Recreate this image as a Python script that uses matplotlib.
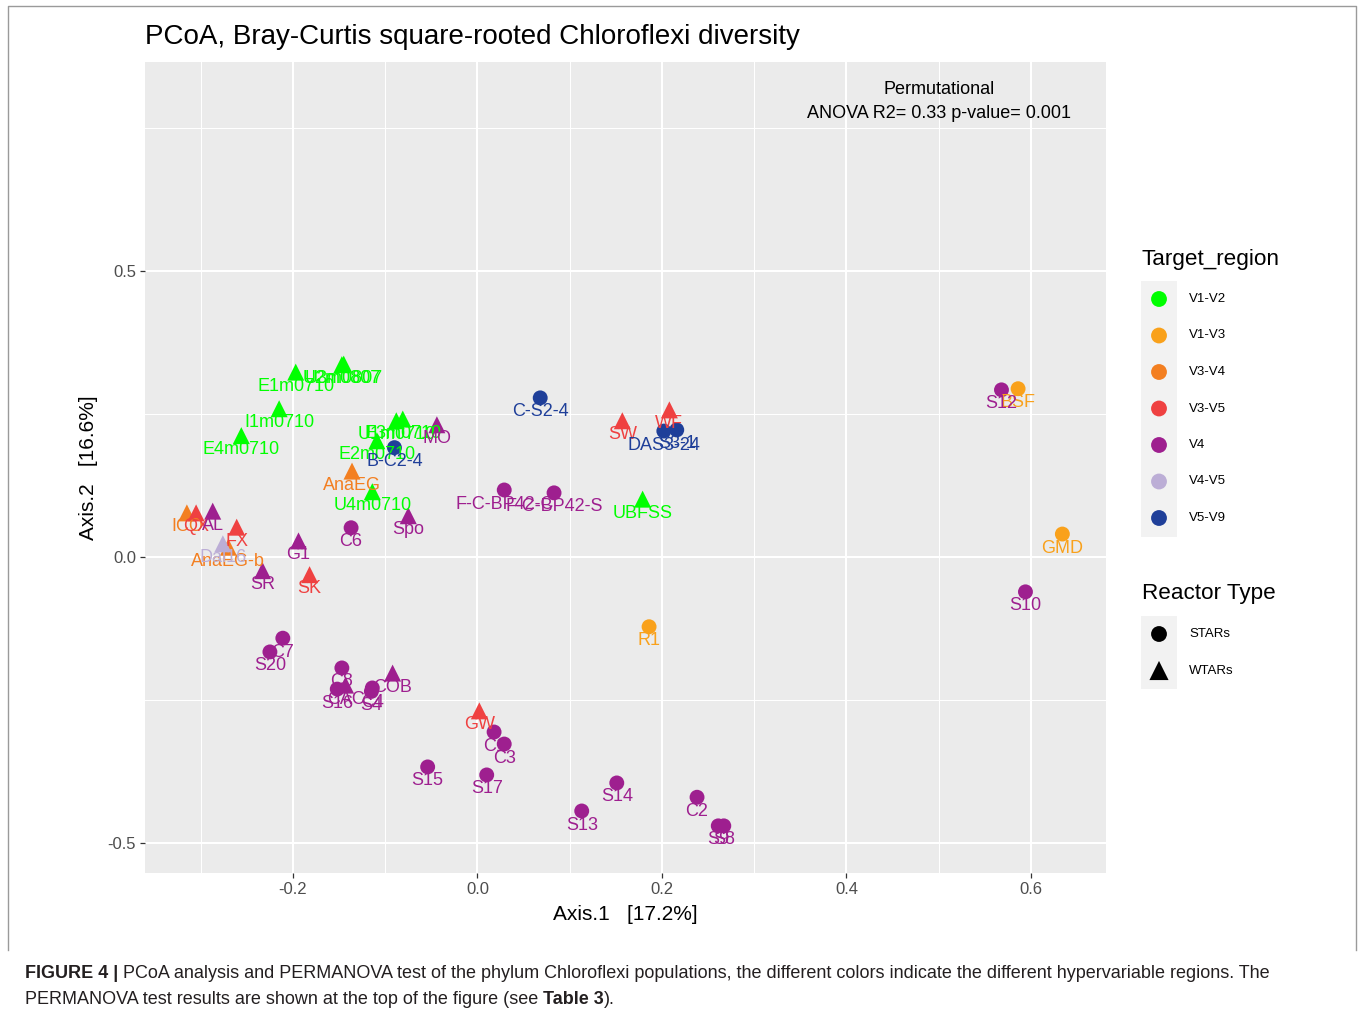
import matplotlib
matplotlib.use('Agg')
import matplotlib.pyplot as plt
from matplotlib.patches import Rectangle
from matplotlib.ticker import FixedLocator, FormatStrFormatter

plt.rcParams['font.family'] = ['Liberation Sans', 'DejaVu Sans']
plt.rcParams['axes.unicode_minus'] = False

# PCoA coordinates
samples = ['E1m0710', 'U2m0807', 'U3m0807', 'I1m0710', 'E4m0710', 'U1m0710', 'E3m0710',
           'E2m0710', 'U4m0710', 'UBFSS',
           'BSF', 'GMD', 'R1',
           'AnaEG', 'AnaEG-b', 'ICO',
           'QX', 'FX', 'SK', 'GW', 'SW', 'WF',
           'AL', 'G1', 'SR', 'Spo', 'MO', 'COB', 'CAC',
           'F-C-BP42-C', 'F-C-BP42-S', 'C6', 'C7', 'S20', 'C8', 'S16', 'C4', 'S4',
           'C1', 'C3', 'S15', 'S17', 'S14', 'S13', 'C2', 'S9', 'S8', 'S12', 'S10',
           'Dai16',
           'C-S2-4', 'B-C2-4', 'DAS3-24', 'S3-1']
axis1 = [-0.197, -0.147, -0.145, -0.215, -0.256, -0.088, -0.081,
         -0.109, -0.114, 0.179,
         0.586, 0.634, 0.186,
         -0.136, -0.270, -0.315,
         -0.305, -0.261, -0.182, 0.002, 0.157, 0.208,
         -0.287, -0.194, -0.233, -0.075, -0.044, -0.092, -0.143,
         0.029, 0.083, -0.137, -0.211, -0.225, -0.147, -0.152, -0.114, -0.115,
         0.018, 0.029, -0.054, 0.010, 0.151, 0.113, 0.238, 0.261, 0.267, 0.568, 0.594,
         -0.276,
         0.068, -0.090, 0.202, 0.216]
axis2 = [0.323, 0.336, 0.337, 0.259, 0.212, 0.238, 0.241,
         0.203, 0.114, 0.101,
         0.294, 0.040, -0.122,
         0.150, 0.017, 0.077,
         0.077, 0.052, -0.031, -0.269, 0.238, 0.257,
         0.080, 0.028, -0.024, 0.072, 0.231, -0.203, -0.224,
         0.117, 0.112, 0.051, -0.142, -0.166, -0.194, -0.231, -0.229, -0.235,
         -0.306, -0.327, -0.367, -0.381, -0.395, -0.444, -0.420, -0.470, -0.470, 0.292, -0.061,
         0.023,
         0.278, 0.191, 0.220, 0.222]
target_region = ['V1-V2'] * 10 + ['V1-V3'] * 3 + ['V3-V4'] * 3 + ['V3-V5'] * 6 + \
                ['V4'] * 27 + ['V4-V5'] + ['V5-V9'] * 4
reactor_type = ['WTARs'] * 10 + ['STARs'] * 3 + ['WTARs'] * 3 + ['WTARs'] * 6 + \
               ['WTARs'] * 7 + ['STARs'] * 20 + ['WTARs'] + ['STARs'] * 4

region_names = ['V1-V2', 'V1-V3', 'V3-V4', 'V3-V5', 'V4', 'V4-V5', 'V5-V9']
region_colors = ['#00FF00', '#F9A11B', '#F37F21', '#EF4141', '#9E1F8F', '#BCAED6', '#1F3F99']
reactor_names = ['STARs', 'WTARs']
reactor_markers = ['o', '^']

color_of = dict(zip(region_names, region_colors))
marker_of = dict(zip(reactor_names, reactor_markers))
size_of = {'STARs': 115, 'WTARs': 150}

W, H = 1360, 1015
fig = plt.figure(figsize=(W / 100, H / 100), dpi=100)
fig.patch.set_facecolor('white')

ax = fig.add_axes([145 / W, (H - 873) / H, 961 / W, 811 / H])
ax.set_facecolor('#EBEBEB')
for sp in ax.spines.values():
    sp.set_visible(False)
ax.set_xlim(-0.3604, 0.6813)
ax.set_ylim(-0.5524, 0.865)
ax.xaxis.set_major_locator(FixedLocator([-0.2, 0.0, 0.2, 0.4, 0.6]))
ax.xaxis.set_minor_locator(FixedLocator([-0.3, -0.1, 0.1, 0.3, 0.5]))
ax.yaxis.set_major_locator(FixedLocator([-0.5, 0.0, 0.5]))
ax.yaxis.set_minor_locator(FixedLocator([-0.25, 0.25, 0.75]))
ax.xaxis.set_major_formatter(FormatStrFormatter('%.1f'))
ax.yaxis.set_major_formatter(FormatStrFormatter('%.1f'))
ax.grid(which='major', color='white', lw=1.5)
ax.grid(which='minor', color='white', lw=0.75)
ax.set_axisbelow(True)
ax.tick_params(which='major', length=3.5, width=0.9, color='#333333',
               labelsize=12, labelcolor='#4D4D4D', pad=3)
ax.tick_params(which='minor', length=0)

# points, one group per region / reactor combination
for reg in region_names:
    for rt in reactor_names:
        xs = [a for a, r, t in zip(axis1, target_region, reactor_type) if r == reg and t == rt]
        ys = [b for b, r, t in zip(axis2, target_region, reactor_type) if r == reg and t == rt]
        if xs:
            ax.scatter(xs, ys, s=size_of[rt], marker=marker_of[rt], color=color_of[reg],
                       edgecolors='none', zorder=3)

# sample labels below the points
for name, a, b, r in zip(samples, axis1, axis2, target_region):
    ax.annotate(name, (a, b), xytext=(0, -4), textcoords='offset points',
                ha='center', va='top', fontsize=13, color=color_of[r], zorder=5)

ax.text(0.5, 0.796, 'Permutational\nANOVA R2= 0.33 p-value= 0.001', ha='center', va='center',
        fontsize=13, color='black', linespacing=1.55)

ax.set_xlabel('Axis.1   [17.2%]', fontsize=15, va='center')
ax.xaxis.set_label_coords(0.5, -41 / 811)
ax.set_ylabel('Axis.2   [16.6%]', fontsize=15, va='center')
ax.yaxis.set_label_coords((88 - 145) / 961, 0.5)

# overlay in pixel coordinates for title, legend, frame and caption
lax = fig.add_axes([0, 0, 1, 1])
lax.set_xlim(0, W)
lax.set_ylim(H, 0)
lax.axis('off')
lax.patch.set_alpha(0)

lax.plot([8, 8, 1356, 1356], [950, 6, 6, 950], color='#9A9A9A', lw=1)

lax.text(145, 37, 'PCoA, Bray-Curtis square-rooted Chloroflexi diversity', fontsize=20,
         va='center', ha='left')

lax.text(1142, 260, 'Target_region', fontsize=16.2, va='center', ha='left')
lax.add_patch(Rectangle((1141, 281), 36, 256, color='#F2F2F2', lw=0))
for i, (nm, col) in enumerate(zip(region_names, region_colors)):
    yy = 299 + i * 36.5
    lax.scatter([1159], [yy], s=130, marker='o', color=col, edgecolors='none')
    lax.text(1189, yy, nm, fontsize=9.5, va='center', ha='left')

lax.text(1142, 594, 'Reactor Type', fontsize=16.2, va='center', ha='left')
lax.add_patch(Rectangle((1141, 616), 36, 73, color='#F2F2F2', lw=0))
for i, (nm, mk) in enumerate(zip(reactor_names, reactor_markers)):
    yy = 634 + i * 36.5
    lax.scatter([1159], [yy], s=130 if mk == 'o' else 190, marker=mk, color='black',
                edgecolors='none')
    lax.text(1189, yy, nm, fontsize=9.5, va='center', ha='left')

# caption with bold parts
cap_col = '#231F20'
fig.canvas.draw()
rend = fig.canvas.get_renderer()


def put_run(x, y, parts):
    for txt, bold in parts:
        t = lax.text(x, y, txt, fontsize=12.95, color=cap_col, va='center', ha='left',
                     fontweight='bold' if bold else 'normal')
        x += t.get_window_extent(renderer=rend).width


put_run(25, 974, [('FIGURE 4 |', True),
                  (' PCoA analysis and PERMANOVA test of the phylum Chloroflexi populations, the '
                   'different colors indicate the different hypervariable regions. The', False)])
put_run(25, 999, [('PERMANOVA test results are shown at the top of the figure (see ', False),
                  ('Table 3', True), (').', False)])

fig.savefig('out.png', dpi=100)
